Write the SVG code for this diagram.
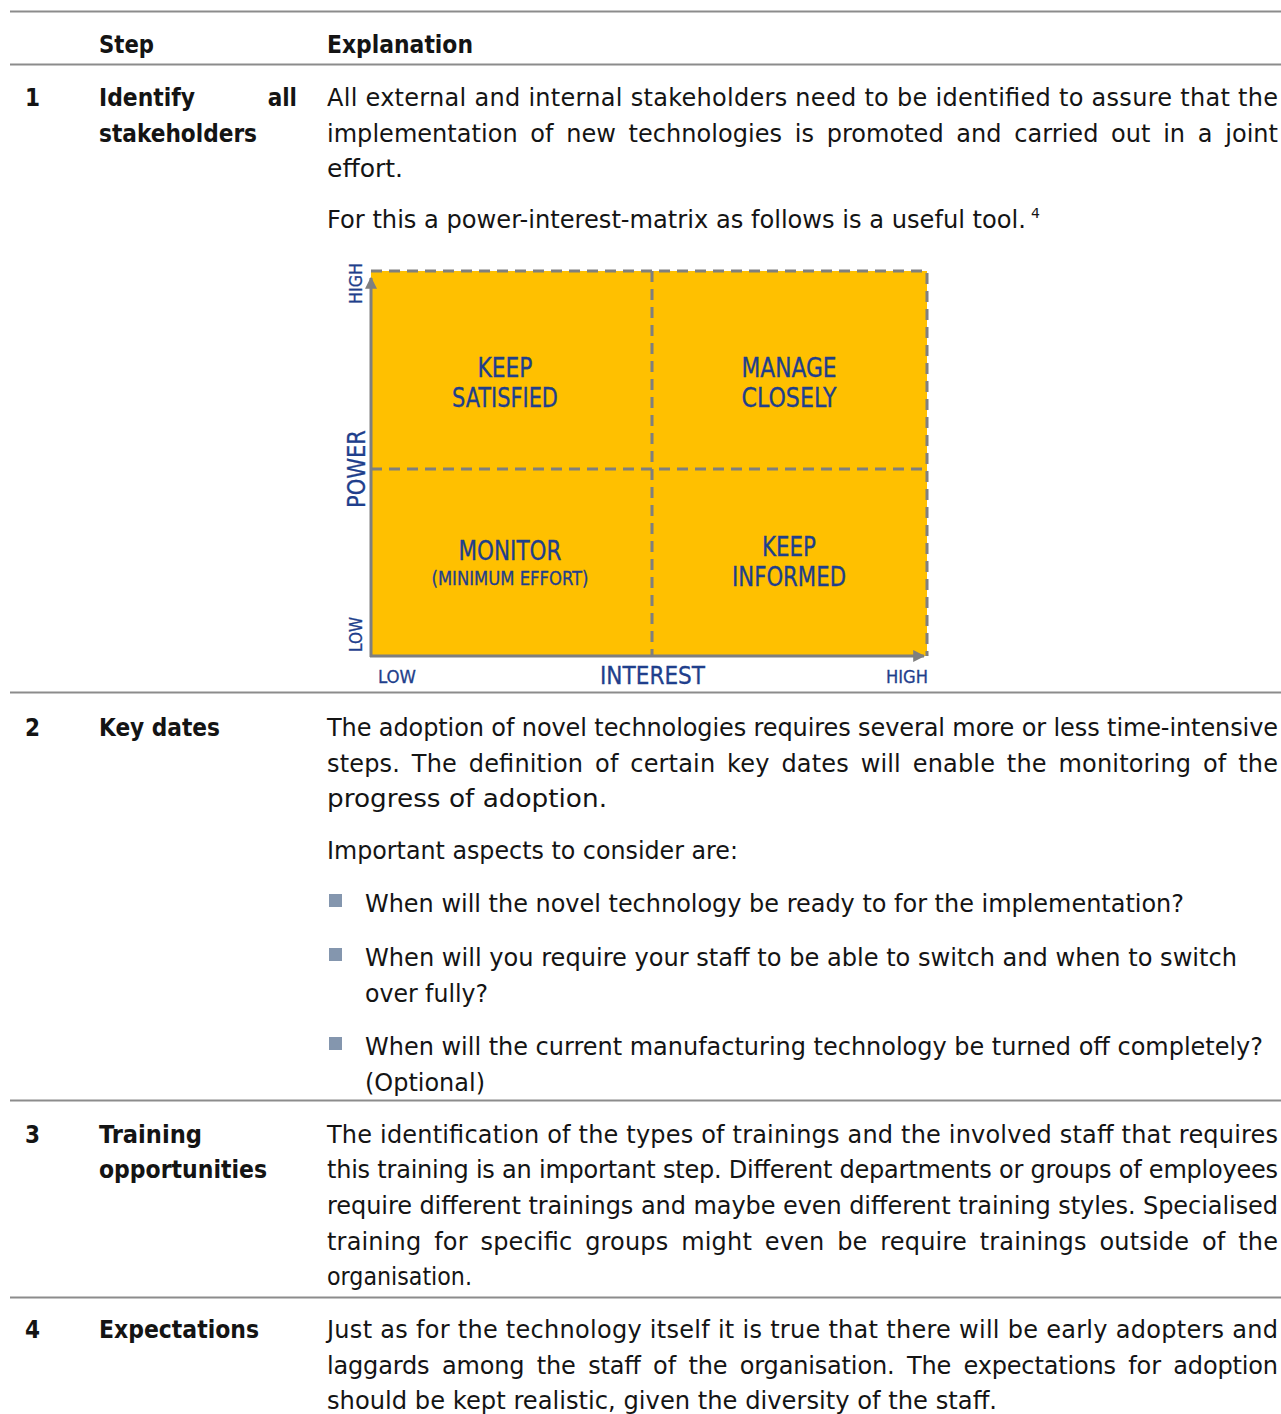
<svg xmlns="http://www.w3.org/2000/svg" width="1281" height="1414" viewBox="0 0 1281 1414">
  <style>
    .t { font-family: "DejaVu Sans", sans-serif; font-size: 24px; fill: #141414; }
    .bd { font-family: "DejaVu Sans Condensed", "DejaVu Sans", sans-serif; font-weight: bold; }
    .rule { stroke: #8c8c8c; stroke-width: 2; fill: none; }
    .bul { fill: #8496AE; }
    .m { font-family: "DejaVu Sans Condensed", "DejaVu Sans", sans-serif; fill: #1F3F8C; stroke: #1F3F8C; stroke-width: 0.3; }
    .dash { stroke: #7f7f7f; stroke-width: 3; stroke-dasharray: 11 7; fill: none; }
    .axis { stroke: #7f7f7f; stroke-width: 3; fill: none; }
  </style>
  <defs>
    <marker id="ah" viewBox="0 0 10 10" refX="9" refY="5" markerWidth="4" markerHeight="4" orient="auto" markerUnits="strokeWidth">
      <path d="M0,0 L10,5 L0,10 z" fill="#7f7f7f"/>
    </marker>
  </defs>

  <rect width="1281" height="1414" fill="#ffffff"/>

  <!-- table rules -->
  <g id="rules">
    <line class="rule" x1="10" y1="11.5" x2="1281" y2="11.5"/>
    <line class="rule" x1="10" y1="64.5" x2="1281" y2="64.5"/>
    <line class="rule" x1="10" y1="692.5" x2="1281" y2="692.5"/>
    <line class="rule" x1="10" y1="1100.5" x2="1281" y2="1100.5"/>
    <line class="rule" x1="10" y1="1297.5" x2="1281" y2="1297.5"/>
  </g>

  <!-- header -->
  <g id="header" class="t bd">
    <text x="99" y="53" textLength="55" lengthAdjust="spacingAndGlyphs">Step</text>
    <text x="327" y="53" textLength="146" lengthAdjust="spacingAndGlyphs">Explanation</text>
  </g>

  <!-- row 1: stakeholders -->
  <g id="row1">
    <g class="t bd">
      <text x="25" y="106">1</text>
      <text x="99" y="106" textLength="96" lengthAdjust="spacingAndGlyphs">Identify</text>
      <text x="297" y="106" text-anchor="end">all</text>
      <text x="99" y="142" textLength="158" lengthAdjust="spacingAndGlyphs">stakeholders</text>
    </g>
    <g class="t">
      <text x="327" y="106" textLength="951" lengthAdjust="spacing">All external and internal stakeholders need to be identified to assure that the</text>
      <text x="327" y="142" textLength="951" lengthAdjust="spacing" word-spacing="5">implementation of new technologies is promoted and carried out in a joint</text>
      <text x="327" y="177" textLength="76" lengthAdjust="spacingAndGlyphs">effort.</text>
      <text x="327" y="228"><tspan textLength="699" lengthAdjust="spacingAndGlyphs">For this a power-interest-matrix as follows is a useful tool.</tspan><tspan x="1031" dy="-10" font-size="14">4</tspan></text>
    </g>
  </g>

  <!-- power-interest matrix -->
  <g id="matrix">
    <rect x="371" y="271" width="556" height="385" fill="#FFC000"/>
    <path class="dash" d="M371,271 H927 V656"/>
    <path class="dash" d="M652,271 V656"/>
    <path class="dash" d="M371,469 H927"/>
    <path class="axis" d="M371,657 V278" marker-end="url(#ah)"/>
    <path class="axis" d="M370,656 H924" marker-end="url(#ah)"/>

    <g class="m" text-anchor="middle" font-size="26">
      <text x="505" y="377" textLength="55" lengthAdjust="spacingAndGlyphs">KEEP</text>
      <text x="505" y="407" textLength="106" lengthAdjust="spacingAndGlyphs">SATISFIED</text>
      <text x="789" y="377" textLength="95" lengthAdjust="spacingAndGlyphs">MANAGE</text>
      <text x="789" y="407" textLength="95" lengthAdjust="spacingAndGlyphs">CLOSELY</text>
      <text x="510" y="560" textLength="103" lengthAdjust="spacingAndGlyphs">MONITOR</text>
      <text x="510" y="585" font-size="19" textLength="157" lengthAdjust="spacingAndGlyphs">(MINIMUM EFFORT)</text>
      <text x="789" y="556" textLength="54" lengthAdjust="spacingAndGlyphs">KEEP</text>
      <text x="789" y="586" textLength="114" lengthAdjust="spacingAndGlyphs">INFORMED</text>
    </g>

    <g class="m">
      <text x="378" y="683" font-size="18" textLength="38" lengthAdjust="spacingAndGlyphs">LOW</text>
      <text x="600" y="684" font-size="24" textLength="105" lengthAdjust="spacingAndGlyphs">INTEREST</text>
      <text x="886" y="683" font-size="18" textLength="42" lengthAdjust="spacingAndGlyphs">HIGH</text>
      <text transform="translate(362,304) rotate(-90)" font-size="18" textLength="41" lengthAdjust="spacingAndGlyphs">HIGH</text>
      <text transform="translate(365,508) rotate(-90)" font-size="25" textLength="78" lengthAdjust="spacingAndGlyphs">POWER</text>
      <text transform="translate(362,652) rotate(-90)" font-size="18" textLength="35" lengthAdjust="spacingAndGlyphs">LOW</text>
    </g>
  </g>

  <!-- row 2: key dates -->
  <g id="row2">
    <g class="t bd">
      <text x="25" y="736">2</text>
      <text x="99" y="736" textLength="121" lengthAdjust="spacingAndGlyphs">Key dates</text>
    </g>
    <g class="t">
      <text x="327" y="736" textLength="951" lengthAdjust="spacing">The adoption of novel technologies requires several more or less time-intensive</text>
      <text x="327" y="772" textLength="951" lengthAdjust="spacing" word-spacing="4">steps. The definition of certain key dates will enable the monitoring of the</text>
      <text x="327" y="807" textLength="280" lengthAdjust="spacingAndGlyphs">progress of adoption.</text>
      <text x="327" y="859" textLength="411" lengthAdjust="spacingAndGlyphs">Important aspects to consider are:</text>
      <rect class="bul" x="329" y="894" width="13" height="13"/>
      <text x="365" y="912" textLength="819" lengthAdjust="spacingAndGlyphs">When will the novel technology be ready to for the implementation?</text>
      <rect class="bul" x="329" y="948" width="13" height="13"/>
      <text x="365" y="966" textLength="872" lengthAdjust="spacingAndGlyphs">When will you require your staff to be able to switch and when to switch</text>
      <text x="365" y="1002" textLength="123" lengthAdjust="spacingAndGlyphs">over fully?</text>
      <rect class="bul" x="329" y="1037" width="13" height="13"/>
      <text x="365" y="1055" textLength="898" lengthAdjust="spacingAndGlyphs">When will the current manufacturing technology be turned off completely?</text>
      <text x="365" y="1091" textLength="120" lengthAdjust="spacingAndGlyphs">(Optional)</text>
    </g>
  </g>

  <!-- row 3: training -->
  <g id="row3">
    <g class="t bd">
      <text x="25" y="1143">3</text>
      <text x="99" y="1143" textLength="103" lengthAdjust="spacingAndGlyphs">Training</text>
      <text x="99" y="1178" textLength="168" lengthAdjust="spacingAndGlyphs">opportunities</text>
    </g>
    <g class="t">
      <text x="327" y="1143" textLength="951" lengthAdjust="spacing">The identification of the types of trainings and the involved staff that requires</text>
      <text x="327" y="1178" textLength="951" lengthAdjust="spacing">this training is an important step. Different departments or groups of employees</text>
      <text x="327" y="1214" textLength="951" lengthAdjust="spacing">require different trainings and maybe even different training styles. Specialised</text>
      <text x="327" y="1250" textLength="951" lengthAdjust="spacing" word-spacing="5">training for specific groups might even be require trainings outside of the</text>
      <text x="327" y="1285" textLength="145" lengthAdjust="spacingAndGlyphs">organisation.</text>
    </g>
  </g>

  <!-- row 4: expectations -->
  <g id="row4">
    <g class="t bd">
      <text x="25" y="1338">4</text>
      <text x="99" y="1338" textLength="160" lengthAdjust="spacingAndGlyphs">Expectations</text>
    </g>
    <g class="t">
      <text x="327" y="1338" textLength="951" lengthAdjust="spacing">Just as for the technology itself it is true that there will be early adopters and</text>
      <text x="327" y="1374" textLength="951" lengthAdjust="spacing" word-spacing="5">laggards among the staff of the organisation. The expectations for adoption</text>
      <text x="327" y="1409" textLength="670" lengthAdjust="spacingAndGlyphs">should be kept realistic, given the diversity of the staff.</text>
    </g>
  </g>
</svg>
